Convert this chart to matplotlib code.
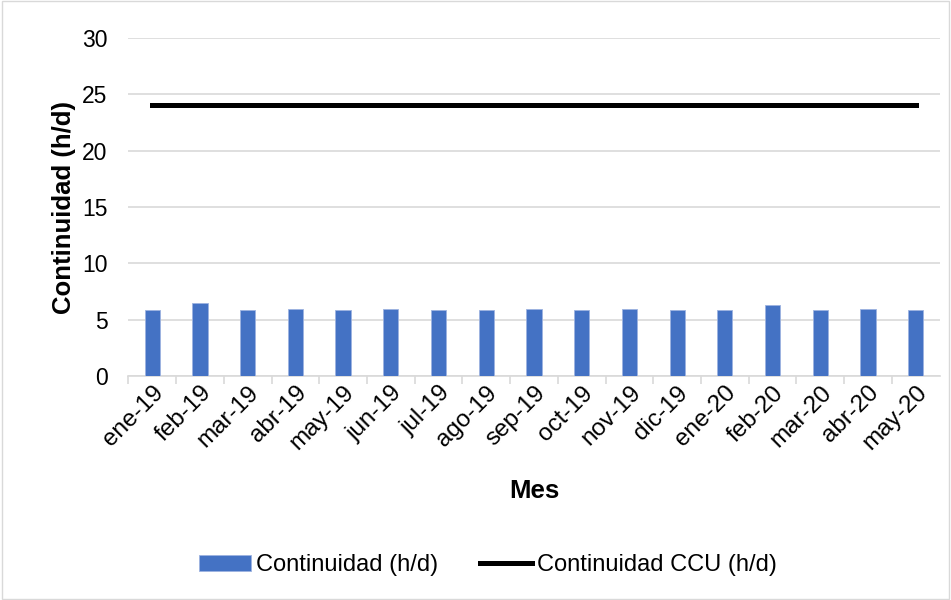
import numpy as np
import matplotlib.pyplot as plt
from matplotlib.patches import Rectangle

plt.rcParams['font.family'] = ['Liberation Sans', 'DejaVu Sans']

meses = ['ene-19', 'feb-19', 'mar-19', 'abr-19', 'may-19', 'jun-19', 'jul-19',
         'ago-19', 'sep-19', 'oct-19', 'nov-19', 'dic-19', 'ene-20', 'feb-20',
         'mar-20', 'abr-20', 'may-20']
continuidad = [5.9, 6.5, 5.9, 6.0, 5.9, 6.0, 5.9, 5.9, 6.0, 5.9, 6.0, 5.9,
               5.9, 6.3, 5.9, 6.0, 5.9]
continuidad_ccu = [24] * len(meses)

fig = plt.figure(figsize=(9.51, 6.0), dpi=100)
ax = fig.add_axes([0.135, 0.373, 0.853, 0.564])

x = np.arange(len(meses))
barras = ax.bar(x, continuidad, width=0.32, color='#4472C4', edgecolor='#9DB3E0',
                linewidth=0.6, label='Continuidad (h/d)', zorder=3)
linea, = ax.plot(x, continuidad_ccu, color='black', linewidth=3.6,
                 label='Continuidad CCU (h/d)', zorder=4)

ax.set_xlim(-0.5, len(meses) - 0.5)
ax.set_ylim(0, 30)
ax.set_yticks(np.arange(0, 31, 5))
ax.yaxis.grid(True, color='#D9D9D9', linewidth=1.2, zorder=0)
ax.set_axisbelow(True)

for s in ['top', 'right', 'left']:
    ax.spines[s].set_visible(False)
ax.spines['bottom'].set_color('#D9D9D9')
ax.spines['bottom'].set_linewidth(1.2)

ax.set_xticks(x - 0.5, minor=False)
ax.set_xticks(x, minor=True)
ax.tick_params(axis='x', which='major', length=6, color='#D9D9D9', width=1.2,
               labelbottom=False)
ax.tick_params(axis='x', which='minor', length=0, labelsize=17.5, pad=4)
ax.set_xticklabels(meses, minor=True, rotation=45, ha='right',
                   rotation_mode='anchor')
ax.tick_params(axis='y', length=0, labelsize=16.5, pad=15)

ax.set_xlabel('Mes', fontsize=18.5, fontweight='bold', labelpad=18)
ax.set_ylabel('Continuidad (h/d)', fontsize=18.5, fontweight='bold', labelpad=4)

fig.legend(handles=[barras, linea], loc='center',
           bbox_to_anchor=(0.513, 0.058), ncol=2, frameon=False, fontsize=17,
           handlelength=2.2, handletextpad=0.2, columnspacing=1.8)

fig.patches.append(Rectangle((0.002, 0.002), 0.996, 0.996,
                             transform=fig.transFigure, fill=False,
                             edgecolor='#D9D9D9', linewidth=1))

fig.savefig('out.png', dpi=100)
